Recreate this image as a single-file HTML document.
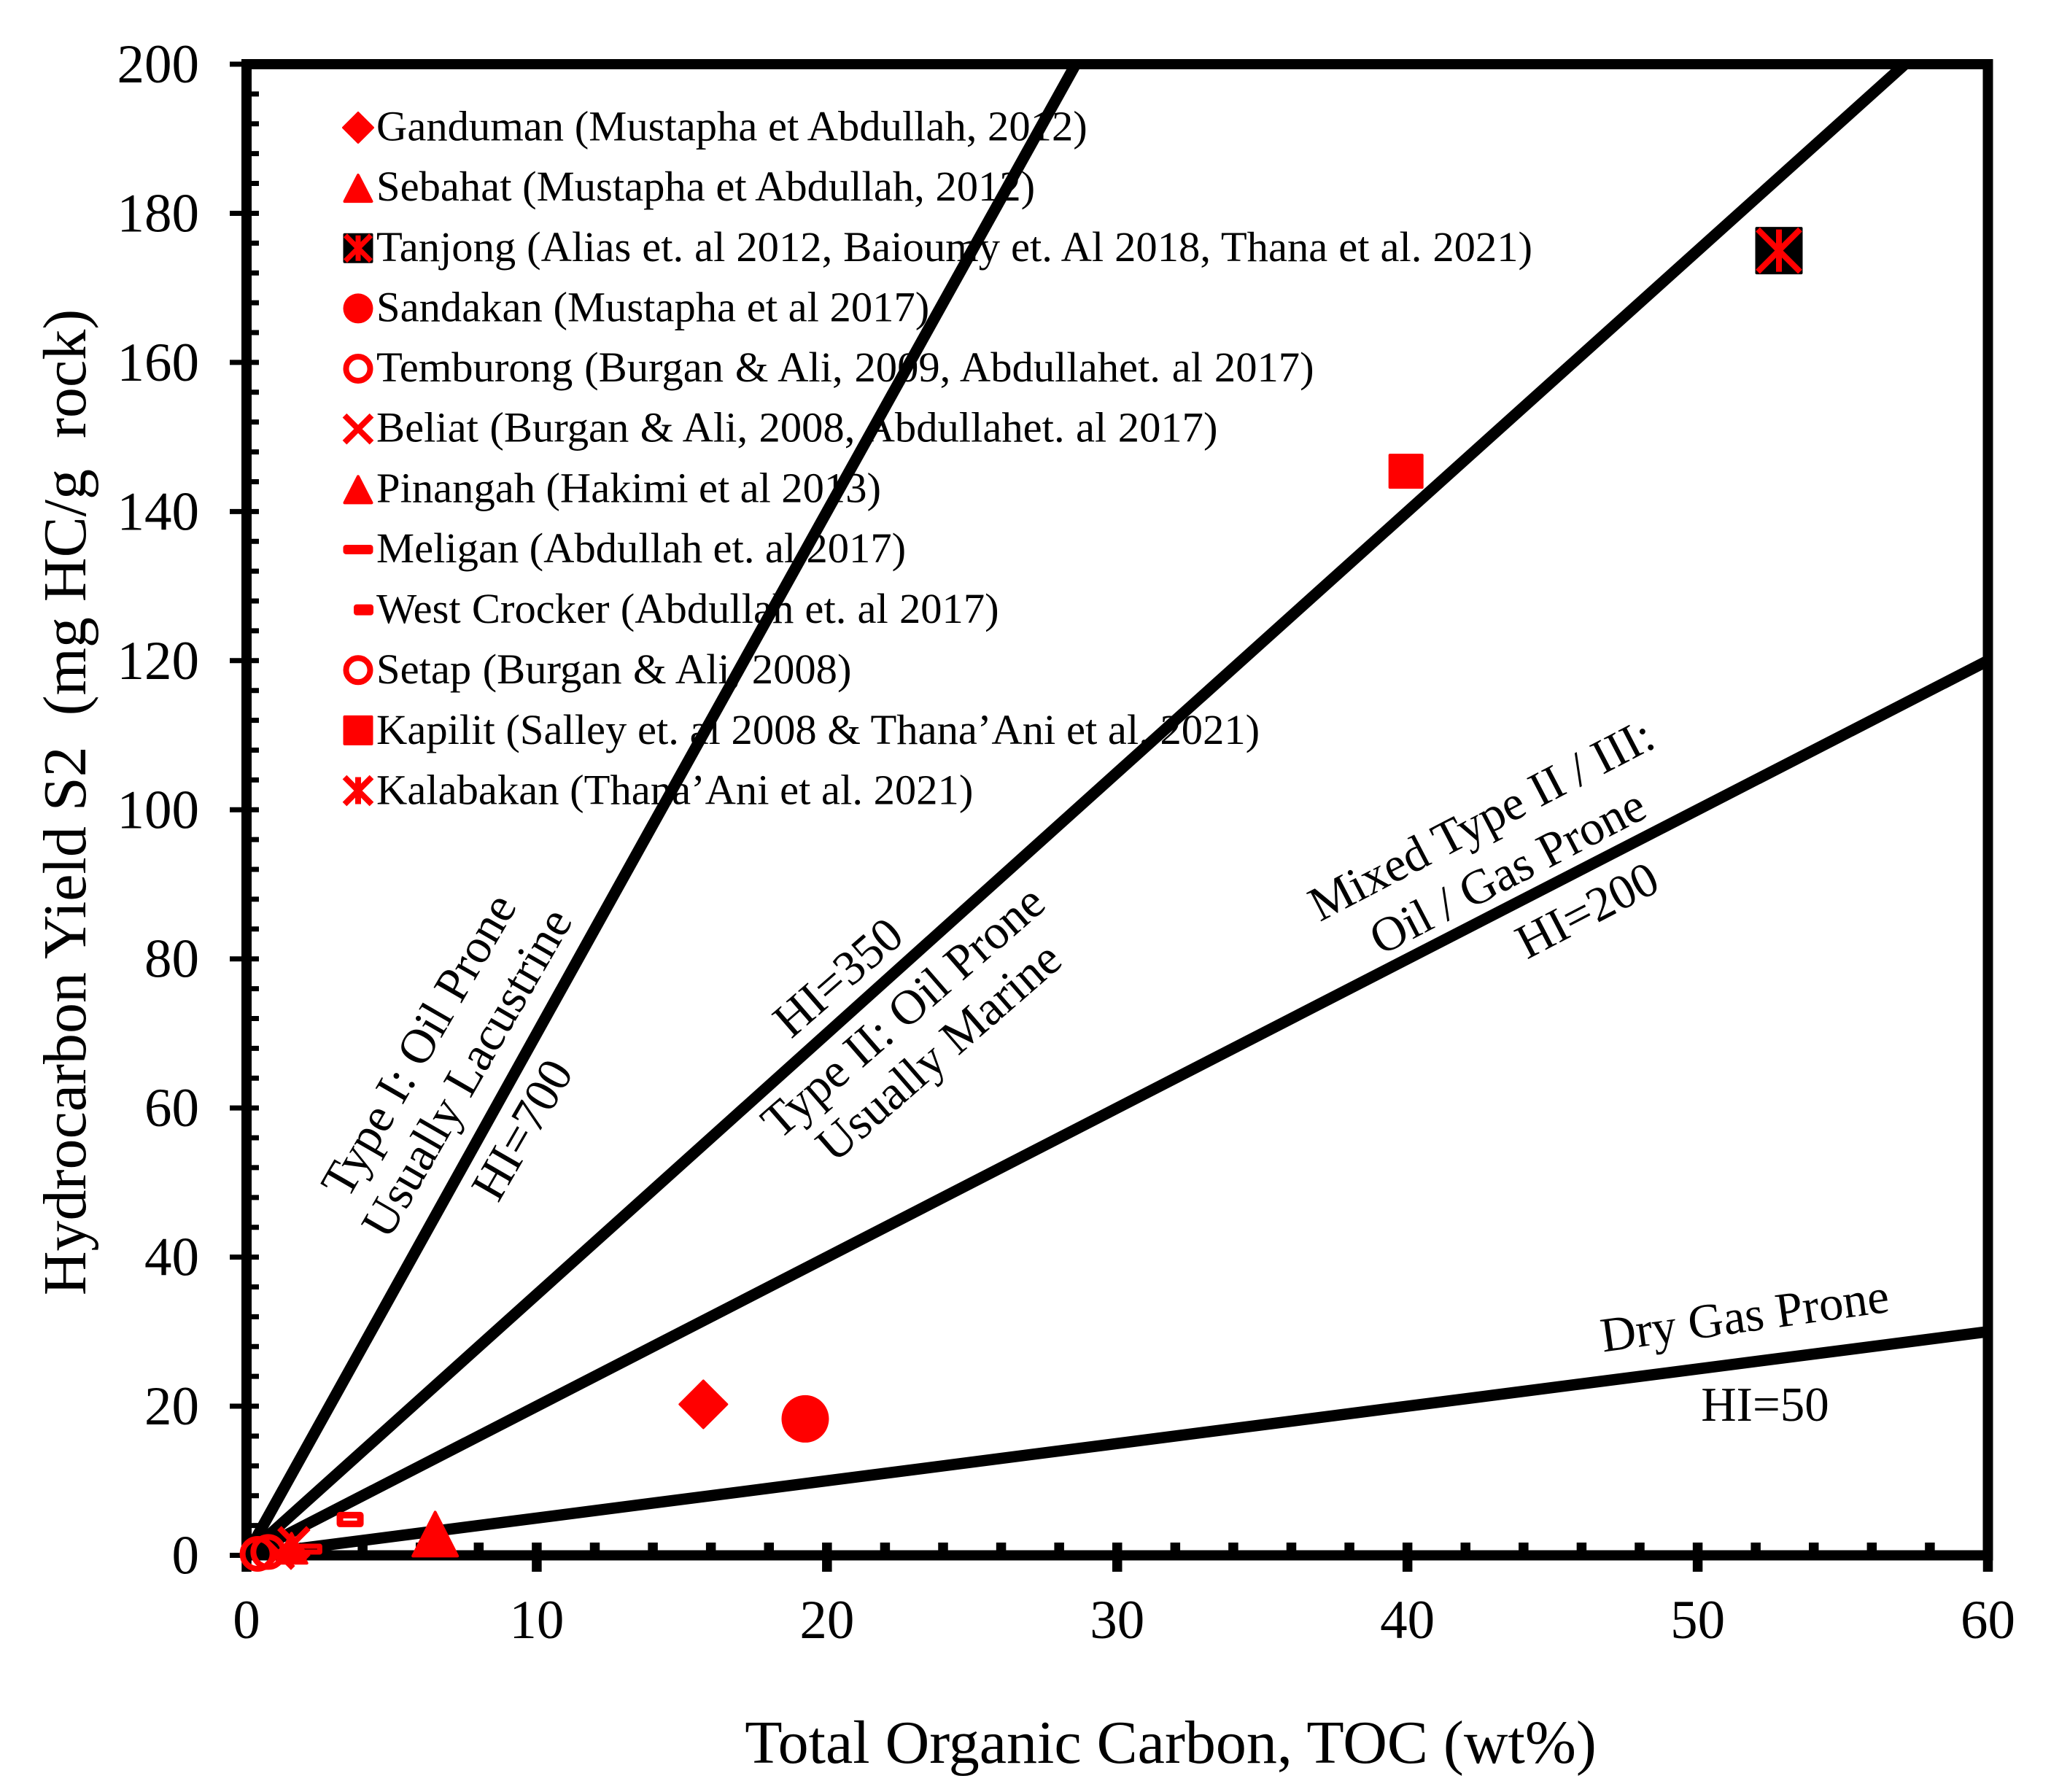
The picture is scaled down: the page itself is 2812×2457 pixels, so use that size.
<!DOCTYPE html>
<html lang="en">
<head>
<meta charset="utf-8">
<title>Hydrocarbon Yield vs Total Organic Carbon</title>
<style>
html,body{margin:0;padding:0;background:#fff;}
svg{display:block;}
text{font-family:"Liberation Serif",serif;fill:#000;}
.legend-text{font-size:58.6px;}
.note{font-size:67px;text-anchor:middle;}
.tick{font-size:75px;}
.title{font-size:84px;text-anchor:middle;}
</style>
</head>
<body>
<svg id="chart" xmlns="http://www.w3.org/2000/svg" width="2812" height="2457" viewBox="0 0 2812 2457">
  <rect x="0" y="0" width="2812" height="2457" fill="#fff"/>
  <g id="legend-labels">
    <text class="legend-text" x="516" y="192.5">Ganduman (Mustapha et Abdullah, 2012)</text>
    <text class="legend-text" x="516" y="275">Sebahat (Mustapha et Abdullah, 2012)</text>
    <text class="legend-text" x="516" y="358" style="word-spacing:0.3px">Tanjong (Alias et. al 2012, Baioumy et. Al 2018, Thana et al. 2021)</text>
    <text class="legend-text" x="516" y="440.5">Sandakan (Mustapha et al 2017)</text>
    <text class="legend-text" x="516" y="523" style="word-spacing:1.2px">Temburong (Burgan &amp; Ali, 2009, Abdullahet. al 2017)</text>
    <text class="legend-text" x="516" y="605.7" style="word-spacing:0.8px">Beliat (Burgan &amp; Ali, 2008, Abdullahet. al 2017)</text>
    <text class="legend-text" x="516" y="688.5" style="word-spacing:-0.3px">Pinangah (Hakimi et al 2013)</text>
    <text class="legend-text" x="516" y="771" style="word-spacing:-0.3px">Meligan (Abdullah et. al 2017)</text>
    <text class="legend-text" x="516" y="854" style="word-spacing:0.5px">West Crocker (Abdullah et. al 2017)</text>
    <text class="legend-text" x="516" y="937" style="word-spacing:0.8px">Setap (Burgan &amp; Ali, 2008)</text>
    <text class="legend-text" x="516" y="1020">Kapilit (Salley et. al 2008 &amp; Thana’Ani et al. 2021)</text>
    <text class="legend-text" x="516" y="1102.5">Kalabakan (Thana’Ani et al. 2021)</text>
  </g>
  <g id="plot"></g>
  <g id="notes">
    <text class="note" transform="translate(574 1433) rotate(-60)" dy="0.33em">Type I: Oil Prone</text>
    <text class="note" transform="translate(640 1471) rotate(-60)" dy="0.33em">Usually Lacustrine</text>
    <text class="note" transform="translate(716 1549) rotate(-60)" dy="0.33em">HI=700</text>
    <text class="note" transform="translate(1149 1340) rotate(-41)" dy="0.33em">HI=350</text>
    <text class="note" transform="translate(1238 1387) rotate(-41)" dy="0.33em">Type II: Oil Prone</text>
    <text class="note" transform="translate(1287 1442) rotate(-41)" dy="0.33em">Usually Marine</text>
    <text class="note" transform="translate(2031 1124) rotate(-27.5)" dy="0.33em">Mixed Type II / III:</text>
    <text class="note" transform="translate(2067 1195) rotate(-27.5)" dy="0.33em">Oil / Gas Prone</text>
    <text class="note" transform="translate(2176 1248) rotate(-27.5)" dy="0.33em">HI=200</text>
    <text class="note" transform="translate(2392 1804) rotate(-8)" dy="0.33em">Dry Gas Prone</text>
    <text class="note" transform="translate(2420 1926)" dy="0.33em">HI=50</text>
  </g>
  <text class="title" x="1605" y="2417">Total Organic Carbon, TOC (wt%)</text>
  <text class="title" xml:space="preserve" style="white-space:pre" transform="translate(117 1100) rotate(-90)">Hydrocarbon Yield S2  (mg HC/g  rock)</text>
</svg>
<script>
// ---- chart data ----
const xTickLabels = [0, 10, 20, 30, 40, 50, 60];
const yTickLabels = [0, 20, 40, 60, 80, 100, 120, 140, 160, 180, 200];
const xMinorStep = 2;
const yMinorStep = 4;
const hiValues = [700, 350, 200, 50];
const pointSeries = ['tanjong', 'kalabakan', 'kapilit', 'ganduman', 'sandakan', 'sebahat', 'west-crocker', 'temburong', 'setap', 'pinangah', 'beliat', 'beliat', 'meligan'];
const pointToc = [52.8, 52.8, 39.95, 15.74, 19.25, 6.5, 3.57, 0.38, 0.75, 1.55, 1.63, 1.1, 2.02];
const pointS2 = [175, 175, 145.4, 20.25, 18.3, 2.9, 4.8, 0.2, 0.45, 1, 1.7, 0.25, 0.83];
const legendKinds = ['diamond', 'triangle', 'square-black', 'disc', 'ring', 'cross', 'triangle', 'dash-solid', 'dash-short', 'ring', 'square', 'asterisk'];

// ---- axis functions ----
const NS = 'http://www.w3.org/2000/svg';
const X0 = 338, X1 = 2725.5, Y0 = 2132.5, Y1 = 88;
const xMax = 60, yMax = 200;
function sx(v) { return X0 + (X1 - X0) * v / xMax; }
function sy(v) { return Y0 - (Y0 - Y1) * v / yMax; }

const plot = document.getElementById('plot');
function make(parent, tag, attrs) {
  const el = document.createElementNS(NS, tag);
  for (const k in attrs) el.setAttribute(k, attrs[k]);
  parent.appendChild(el);
  return el;
}

// marker appearance per series (style only)
const plotStyle = {
  'tanjong': ['square-black', 65], 'kalabakan': ['asterisk', 62], 'kapilit': ['square', 48],
  'ganduman': ['diamond', 65], 'sandakan': ['disc', 65], 'sebahat': ['triangle', 65],
  'west-crocker': ['dash-open', 20], 'temburong': ['ring', 49], 'setap': ['ring', 49],
  'pinangah': ['triangle', 46], 'beliat': ['cross', 44], 'meligan': ['dash-long', 15]
};

function drawMarker(parent, kind, cx, cy, size) {
  const h = size / 2;
  const red = '#f00';
  const g = make(parent, 'g', {});
  if (kind === 'diamond') {
    make(g, 'polygon', { points: `${cx},${cy - h} ${cx + h},${cy} ${cx},${cy + h} ${cx - h},${cy}`, fill: red, stroke: red, 'stroke-width': 3, 'stroke-linejoin': 'round' });
  } else if (kind === 'triangle') {
    make(g, 'polygon', { points: `${cx},${cy - h + 3} ${cx + h - 2},${cy + h - 2} ${cx - h + 2},${cy + h - 2}`, fill: red, stroke: red, 'stroke-width': 4, 'stroke-linejoin': 'round' });
  } else if (kind === 'disc') {
    make(g, 'circle', { cx: cx, cy: cy, r: h, fill: red });
  } else if (kind === 'ring') {
    make(g, 'circle', { cx: cx, cy: cy, r: h - 4, fill: 'none', stroke: red, 'stroke-width': 8 });
  } else if (kind === 'square') {
    make(g, 'rect', { x: cx - h, y: cy - h, width: size, height: size, rx: 2, fill: red });
  } else if (kind === 'square-black') {
    make(g, 'rect', { x: cx - h, y: cy - h, width: size, height: size, rx: 2, fill: '#000' });
    if (size < 50) {
      drawCross(g, cx, cy, h - 3, 7, true);
    }
  } else if (kind === 'cross') {
    drawCross(g, cx, cy, h - 2, 8, false);
  } else if (kind === 'asterisk') {
    drawCross(g, cx, cy, h - 2, 8, true);
  } else if (kind === 'dash-solid') {
    make(g, 'rect', { x: cx - h, y: cy - 6.5, width: size, height: 13, rx: 4, fill: red });
  } else if (kind === 'dash-short') {
    make(g, 'rect', { x: cx - 6, y: cy - 7.5, width: 27, height: 15, rx: 4, fill: red });
  } else if (kind === 'dash-open') {
    make(g, 'rect', { x: cx - 14, y: cy - 6, width: 28, height: 12, fill: 'none', stroke: red, 'stroke-width': 9, 'stroke-linejoin': 'round' });
  } else if (kind === 'dash-long') {
    make(g, 'rect', { x: cx - 20, y: cy - 4, width: 40, height: 8, fill: 'none', stroke: red, 'stroke-width': 7, 'stroke-linejoin': 'round' });
  }
  return g;
}
function drawCross(g, cx, cy, a, w, vertical) {
  make(g, 'line', { x1: cx - a, y1: cy - a, x2: cx + a, y2: cy + a, stroke: '#f00', 'stroke-width': w });
  make(g, 'line', { x1: cx - a, y1: cy + a, x2: cx + a, y2: cy - a, stroke: '#f00', 'stroke-width': w });
  if (vertical) make(g, 'line', { x1: cx, y1: cy - a, x2: cx, y2: cy + a, stroke: '#f00', 'stroke-width': w });
}

// ---- legend markers ----
const legendLayer = make(plot, 'g', {});


legendKinds.forEach(function (kind, i) {
  const m = drawMarker(legendLayer, kind, 491, 175 + 82.64 * i, 41);
  
  
});

// ---- HI reference lines (S2 = HI/100 * TOC) ----
const clip = make(plot, 'clipPath', { id: 'plot-clip' });
make(clip, 'rect', { x: X0, y: Y1, width: X1 - X0, height: Y0 - Y1 });
hiValues.forEach(function (hi) {
  const slope = hi / 100;
  const xEnd = Math.min(xMax, yMax / slope);
  const ln = make(plot, 'line', { x1: sx(0), y1: sy(0), x2: sx(xEnd), y2: sy(slope * xEnd), stroke: '#000', 'stroke-width': 15.5, 'clip-path': 'url(#plot-clip)' });
  
  
});

// ---- axes frame ----
const frame = make(plot, 'rect', { x: X0, y: Y1, width: X1 - X0, height: Y0 - Y1, fill: 'none', stroke: '#000', 'stroke-width': 14 });



// ---- y ticks ----
for (let v = 0; v <= yMax; v += yMinorStep) {
  const major = v % 20 === 0;
  const t = make(plot, 'line', { x1: major ? 315 : X0, y1: sy(v), x2: 355, y2: sy(v), stroke: '#000', 'stroke-width': 7 });
  
  
}
yTickLabels.forEach(function (v) {
  const lb = make(plot, 'text', { class: 'tick', x: 273, y: sy(v) + 25, 'text-anchor': 'end' });
  
  
  lb.textContent = v;
});

// ---- x ticks ----
for (let v = 0; v <= xMax; v += xMinorStep) {
  const major = v % 10 === 0;
  const bottom = major ? 2155 : Y0;
  const top = (v === 0 || v === xMax) ? Y0 : 2115;
  const t = make(plot, 'line', { x1: sx(v), y1: top, x2: sx(v), y2: bottom, stroke: '#000', 'stroke-width': 13.5 });
  
  
}
xTickLabels.forEach(function (v) {
  const lb = make(plot, 'text', { class: 'tick', x: sx(v), y: 2246, 'text-anchor': 'middle' });
  
  
  lb.textContent = v;
});

// ---- data points ----
pointSeries.forEach(function (name, i) {
  const style = plotStyle[name];
  const m = drawMarker(plot, style[0], sx(pointToc[i]), sy(pointS2[i]), style[1]);
  
  
});
</script>
</body>
</html>
